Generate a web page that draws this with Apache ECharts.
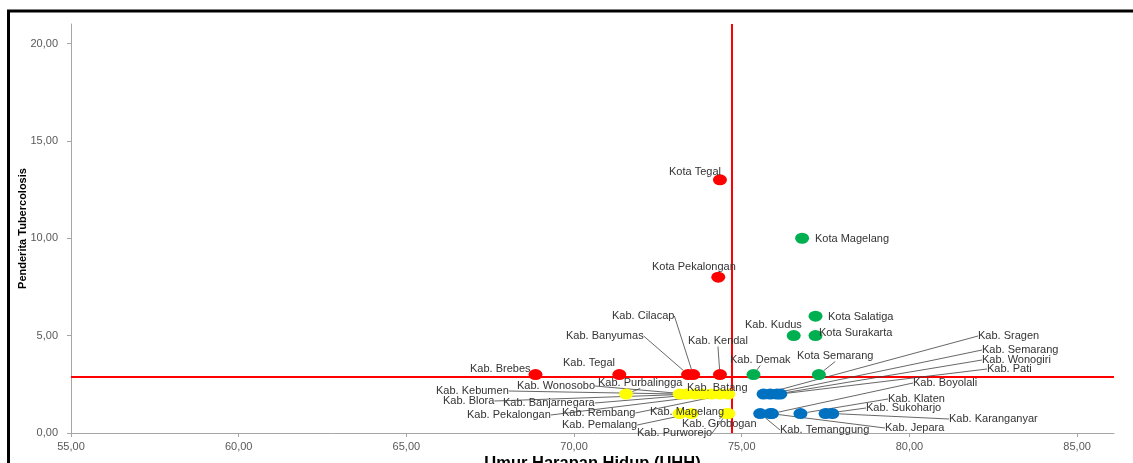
<!DOCTYPE html>
<html lang="id">
<head>
<meta charset="UTF-8">
<title>UHH vs Penderita Tubercolosis</title>
<script src="https://cdn.jsdelivr.net/npm/echarts@6.0.0/dist/echarts.min.js"></script>
<style>
  html, body { margin: 0; padding: 0; background: #fff; }
  #chart { width: 1133px; height: 463px; }
</style>
</head>
<body>
<div id="chart"></div>
<script>
// data per kuadran (warna)
var redNames = ['Kota Tegal', 'Kota Pekalongan', 'Kab. Cilacap', 'Kab. Banyumas', 'Kab. Kendal', 'Kab. Tegal', 'Kab. Brebes'];
var redUHH   = [74.35, 74.3, 73.55, 73.4, 74.35, 71.35, 68.85];
var redTB    = [13.0, 8.0, 3.0, 3.0, 3.0, 3.0, 3.0];

var greenNames = ['Kota Magelang', 'Kota Salatiga', 'Kota Surakarta', 'Kab. Kudus', 'Kab. Demak', 'Kota Semarang'];
var greenUHH   = [76.8, 77.2, 77.2, 76.55, 75.35, 77.3];
var greenTB    = [10.0, 6.0, 5.0, 5.0, 3.0, 3.0];

var blueNames = ['Kab. Sragen', 'Kab. Semarang', 'Kab. Wonogiri', 'Kab. Pati', 'Kab. Boyolali', 'Kab. Klaten',
                 'Kab. Sukoharjo', 'Kab. Karanganyar', 'Kab. Jepara', 'Kab. Temanggung'];
var blueUHH   = [75.65, 75.85, 76.05, 76.15, 75.9, 76.75, 77.5, 77.7, 75.85, 75.55];
var blueTB    = [2.0, 2.0, 2.0, 2.0, 1.0, 1.0, 1.0, 1.0, 1.0, 1.0];

var yellowNames = ['Kab. Purbalingga', 'Kab. Kebumen', 'Kab. Wonosobo', 'Kab. Blora', 'Kab. Banjarnegara', 'Kab. Batang',
                   'Kab. Pekalongan', 'Kab. Rembang', 'Kab. Magelang', 'Kab. Pemalang', 'Kab. Grobogan', 'Kab. Purworejo'];
var yellowUHH   = [71.55, 73.15, 73.35, 73.6, 73.85, 74.1, 74.35, 74.6, 73.15, 73.5, 74.6, 74.55];
var yellowTB    = [2.0, 2.0, 2.0, 2.0, 2.0, 2.0, 2.0, 2.0, 1.0, 1.0, 1.0, 1.0];

// garis rata-rata
var meanUHH = 74.7;
var meanTB = 2.9;

var xTicks = [55, 60, 65, 70, 75, 80, 85];
var yTicks = [0, 5, 10, 15, 20];

// posisi label (pixel, rata kiri, tengah vertikal)
var labelPos = {
    'Kota Tegal': [669, 172], 'Kota Pekalongan': [652, 267], 'Kab. Cilacap': [612, 316],
    'Kab. Banyumas': [566, 336], 'Kab. Kendal': [688, 341], 'Kab. Tegal': [563, 363],
    'Kab. Brebes': [470, 369], 'Kota Magelang': [815, 239], 'Kota Salatiga': [828, 317],
    'Kota Surakarta': [819, 333], 'Kab. Kudus': [745, 325], 'Kab. Demak': [730, 360],
    'Kota Semarang': [797, 356], 'Kab. Sragen': [978, 336], 'Kab. Semarang': [982, 350],
    'Kab. Wonogiri': [982, 360], 'Kab. Pati': [987, 369], 'Kab. Boyolali': [913, 383],
    'Kab. Klaten': [888, 399], 'Kab. Sukoharjo': [866, 408], 'Kab. Karanganyar': [949, 419],
    'Kab. Jepara': [885, 428], 'Kab. Temanggung': [780, 430], 'Kab. Kebumen': [436, 391],
    'Kab. Wonosobo': [517, 386], 'Kab. Purbalingga': [598, 383], 'Kab. Blora': [443, 401],
    'Kab. Banjarnegara': [503, 403], 'Kab. Pekalongan': [467, 415], 'Kab. Rembang': [562, 413],
    'Kab. Pemalang': [562, 425], 'Kab. Batang': [687, 388], 'Kab. Magelang': [650, 412],
    'Kab. Grobogan': [682, 424], 'Kab. Purworejo': [637, 433]
};
var noLeader = ['Kota Tegal', 'Kota Pekalongan', 'Kab. Tegal', 'Kab. Brebes', 'Kota Magelang',
                'Kota Salatiga', 'Kota Surakarta', 'Kab. Kudus', 'Kab. Magelang'];

function fmt(v) {
    return v.toFixed(2).replace('.', ',');
}

function buildData(names, xs, ys) {
    return names.map(function (n, i) {
        return {name: n, value: [xs[i], ys[i]], labelLine: {show: noLeader.indexOf(n) < 0}};
    });
}

function scatterSeries(names, xs, ys, color) {
    return {
        type: 'scatter',
        symbol: 'circle',
        symbolSize: [14, 11],
        itemStyle: {color: color, opacity: 1},
        data: buildData(names, xs, ys),
        label: {
            show: true,
            formatter: '{b}',
            fontFamily: 'Liberation Sans',
            fontSize: 11,
            color: '#333'
        },
        labelLine: {show: true, lineStyle: {color: '#404040', width: 0.8}},
        labelLayout: function (p) {
            var pos = labelPos[p.text];
            if (!pos) return {};
            return {x: pos[0], y: pos[1], align: 'left', verticalAlign: 'middle'};
        },
        emphasis: {disabled: true}
    };
}

var chart = echarts.init(document.getElementById('chart'));

var red = scatterSeries(redNames, redUHH, redTB, '#FF0000');
red.markLine = {
    silent: true,
    symbol: 'none',
    z: 1,
    label: {show: false},
    lineStyle: {color: '#FF0000', width: 2, type: 'solid'},
    data: [{xAxis: meanUHH}, {yAxis: meanTB}]
};

chart.setOption({
    animation: false,
    grid: {left: 71, right: 19, top: 24, bottom: 30, containLabel: false, outerBoundsMode: 'none'},
    xAxis: {
        type: 'value',
        min: 55,
        max: 86.1,
        name: 'Umur Harapan Hidup (UHH)',
        nameLocation: 'middle',
        nameGap: 22,
        nameMoveOverlap: false,
        nameTextStyle: {fontFamily: 'Liberation Sans', fontWeight: 'bold', fontSize: 16.5, color: '#000'},
        axisLine: {lineStyle: {color: '#A6A6A6', width: 1}},
        axisTick: {show: true, length: 4, customValues: xTicks, lineStyle: {color: '#A6A6A6'}},
        axisLabel: {customValues: xTicks, formatter: fmt, margin: 8, fontFamily: 'Liberation Sans', fontSize: 11, color: '#595959'},
        splitLine: {show: false}
    },
    yAxis: {
        type: 'value',
        min: 0,
        max: 21,
        name: 'Penderita Tubercolosis',
        nameLocation: 'middle',
        nameRotate: 90,
        nameGap: 43,
        nameMoveOverlap: false,
        nameTextStyle: {fontFamily: 'Liberation Sans', fontWeight: 'bold', fontSize: 11, color: '#000'},
        axisLine: {show: true, lineStyle: {color: '#A6A6A6', width: 1}},
        axisTick: {show: true, length: 4, customValues: yTicks, lineStyle: {color: '#A6A6A6'}},
        axisLabel: {customValues: yTicks, formatter: fmt, margin: 13, fontFamily: 'Liberation Sans', fontSize: 11, color: '#595959'},
        splitLine: {show: false}
    },
    graphic: [{
        type: 'rect',
        shape: {x: 8.5, y: 11, width: 1300, height: 600},
        style: {fill: 'none', stroke: '#000', lineWidth: 3},
        z: 100,
        silent: true
    }],
    series: [
        red,
        scatterSeries(greenNames, greenUHH, greenTB, '#00B050'),
        scatterSeries(blueNames, blueUHH, blueTB, '#0070C0'),
        scatterSeries(yellowNames, yellowUHH, yellowTB, '#FFFF00')
    ]
});
</script>
</body>
</html>
